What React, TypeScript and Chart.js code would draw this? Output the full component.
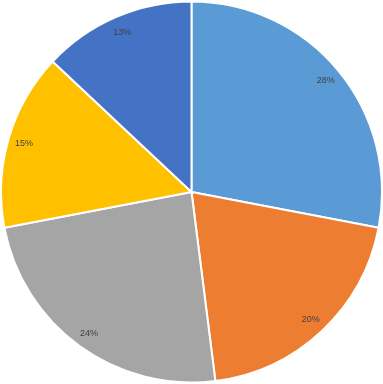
import React, { useEffect, useRef } from "react";
import { Chart, registerables } from "chart.js";

Chart.register(...registerables);

const categories = ["A", "B", "C", "D", "E"];
const values = [28, 20, 24, 15, 13];
const colors = ["#5B9BD5", "#ED7D31", "#A5A5A5", "#FFC000", "#4472C4"];

const labelPlugin = {
  id: "pctLabels",
  afterDatasetsDraw(chart: any) {
    const ctx = chart.ctx;
    const meta = chart.getDatasetMeta(0);
    const total = values.reduce((a, b) => a + b, 0);
    ctx.save();
    ctx.font = "9px 'Liberation Sans', Arial, sans-serif";
    ctx.fillStyle = "#404040";
    ctx.textAlign = "center";
    ctx.textBaseline = "middle";
    meta.data.forEach((arc: any, i: number) => {
      const p = arc.getProps(["x", "y", "startAngle", "endAngle", "outerRadius"], true);
      const mid = (p.startAngle + p.endAngle) / 2;
      const r = p.outerRadius * 0.915;
      const x = p.x + Math.cos(mid) * r;
      const y = p.y + Math.sin(mid) * r;
      ctx.fillText(Math.round((values[i] / total) * 100) + "%", x, y);
    });
    ctx.restore();
  },
};

export default function App() {
  const ref = useRef<HTMLCanvasElement>(null);
  useEffect(() => {
    document.body.style.margin = "0";
    const chart = new Chart(ref.current!, {
      type: "pie",
      data: {
        labels: categories,
        datasets: [
          {
            data: values,
            backgroundColor: colors,
            borderColor: "#FFFFFF",
            borderWidth: 2,
          },
        ],
      },
      options: {
        responsive: false,
        animation: false,
        layout: { padding: { top: -2, left: -1, right: -1, bottom: 0 } },
        plugins: {
          legend: { display: false },
          tooltip: { enabled: false },
        },
      },
      plugins: [labelPlugin],
    });
    return () => chart.destroy();
  }, []);
  return <canvas ref={ref} width={383} height={384} style={{ display: "block" }} />;
}
